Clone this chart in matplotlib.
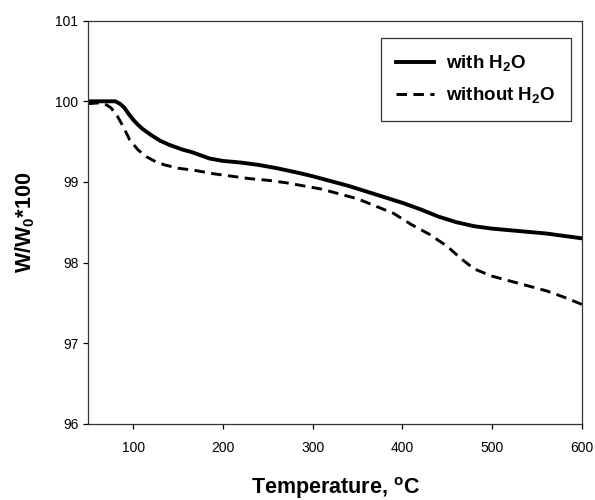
import matplotlib
matplotlib.use("Agg")
import matplotlib.pyplot as plt

plt.rcParams['font.family'] = ['Liberation Sans', 'DejaVu Sans']
plt.rcParams['mathtext.fontset'] = 'custom'
plt.rcParams['mathtext.rm'] = 'Liberation Sans'
plt.rcParams['mathtext.bf'] = 'Liberation Sans:bold'

# with H2O (solid)
temp_with = [50, 60, 70, 80, 85, 90, 95, 100, 105, 110, 115, 120, 130, 140, 155,
             165, 185, 200, 220, 240, 260, 285, 300, 320, 340, 360, 380, 400, 420,
             440, 460, 480, 500, 520, 540, 560, 580, 600]
w_with = [100.00, 100.00, 100.00, 100.00, 99.97, 99.92, 99.84, 99.77, 99.71, 99.66,
          99.62, 99.58, 99.51, 99.46, 99.40, 99.37, 99.29, 99.26, 99.24, 99.21,
          99.17, 99.11, 99.07, 99.01, 98.95, 98.88, 98.81, 98.74, 98.66, 98.57,
          98.50, 98.45, 98.42, 98.40, 98.38, 98.36, 98.33, 98.30]

# without H2O (dashed)
temp_without = [50, 60, 68, 75, 82, 89, 96, 105, 115, 125, 135, 150, 170, 190, 210,
                230, 250, 270, 290, 310, 330, 350, 370, 390, 410, 430, 450, 465,
                480, 500, 520, 540, 560, 580, 600]
w_without = [99.97, 99.98, 99.97, 99.92, 99.82, 99.68, 99.52, 99.40, 99.31, 99.25,
             99.21, 99.17, 99.14, 99.10, 99.07, 99.04, 99.02, 98.99, 98.95, 98.91,
             98.85, 98.79, 98.70, 98.61, 98.47, 98.35, 98.20, 98.05, 97.92, 97.83,
             97.77, 97.71, 97.65, 97.57, 97.48]

xticks = [100, 200, 300, 400, 500, 600]
yticks = [96, 97, 98, 99, 100, 101]

fig = plt.figure(figsize=(5.95, 5.0), dpi=100)
ax = fig.add_axes([0.1487, 0.1526, 0.8293, 0.806])

ax.plot(temp_with, w_with, color='black', lw=2.8, solid_joinstyle='round',
        label='with H$_\\mathbf{2}$O')
ax.plot(temp_without, w_without, color='black', lw=2.1, dashes=(3.6, 2.2),
        label='without H$_\\mathbf{2}$O')

ax.set_xlim(50, 600)
ax.set_ylim(96, 101)
ax.set_xticks(xticks)
ax.set_yticks(yticks)
ax.set_xticklabels([str(t) for t in xticks])
ax.set_yticklabels([str(t) for t in yticks])
ax.tick_params(direction='out', length=3.8, width=0.9, labelsize=10,
               top=False, right=False)
ax.tick_params(axis='x', pad=9)
ax.tick_params(axis='y', pad=3.5)
for s in ax.spines.values():
    s.set_linewidth(0.9)
    s.set_color('#333333')

ax.set_xlabel('Temperature, $^\\mathbf{o}$C', fontsize=15.5, fontweight='bold',
              labelpad=14)
ax.set_ylabel('W/W$_\\mathbf{0}$*100', fontsize=15.5, fontweight='bold',
              labelpad=13)

leg = ax.legend(loc='upper right', bbox_to_anchor=(0.977, 0.956),
                borderaxespad=0, fancybox=False, frameon=True,
                prop={'weight': 'bold', 'size': 13.5},
                handlelength=2.05, handletextpad=0.64, borderpad=0.8,
                labelspacing=0.62)
leg.get_frame().set_edgecolor('black')
leg.get_frame().set_linewidth(0.9)

fig.savefig('out.png', dpi=100)
